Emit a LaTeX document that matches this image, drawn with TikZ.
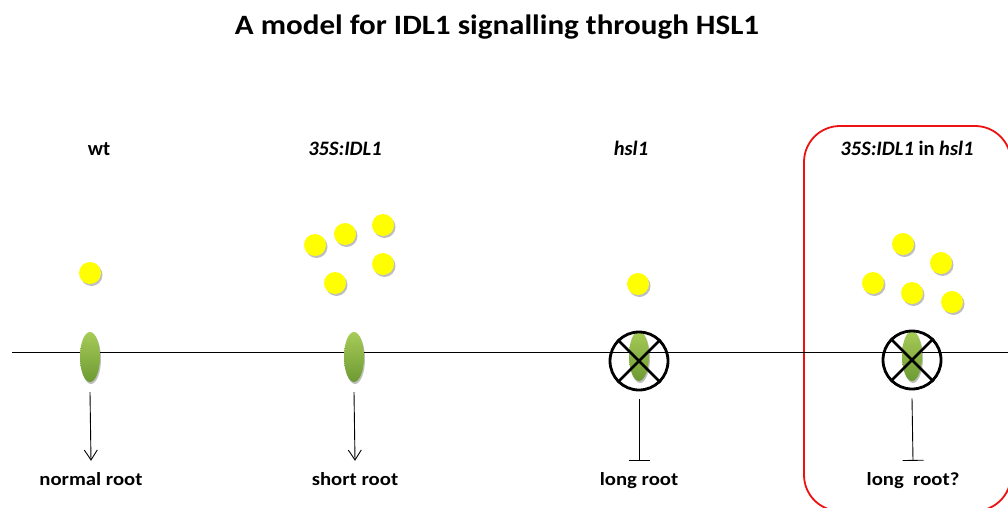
\documentclass[tikz,border=0pt]{standalone}
\usepackage{graphicx}
\usepackage{fontspec}
\setmainfont{Carlito}
\usetikzlibrary{shapes.geometric,shadows,arrows.meta}
\definecolor{leafTop}{HTML}{A6CB56}
\definecolor{leafBot}{HTML}{6E9A34}
\definecolor{ligand}{HTML}{FFFF00}
\definecolor{boxred}{HTML}{EE1111}
\newcommand{\wide}[2]{\scalebox{#1}[1]{#2}}
\tikzset{
  receptor/.style={ellipse, minimum width=20pt, minimum height=50pt, inner sep=0pt,
    top color=leafTop, bottom color=leafBot, draw=none,
    drop shadow={shadow xshift=1pt, shadow yshift=-2pt, opacity=0.25, fill=black}},
  peptide/.style={circle, minimum size=22pt, inner sep=0pt, fill=ligand, draw=none,
    drop shadow={shadow xshift=1.5pt, shadow yshift=-2pt, opacity=0.25, fill=black}},
  blocked/.style={circle, draw=black, line width=2.8pt, minimum size=58pt, inner sep=0pt},
  genotype/.style={font=\fontsize{20.5}{23}\selectfont\bfseries, inner sep=0pt, anchor=base},
  outcome/.style={font=\fontsize{18.5}{21}\selectfont\bfseries, inner sep=0pt, anchor=base},
  signal/.style={line width=0.9pt, -{Straight Barb[length=10pt,width=13pt]}},
  inhibit/.style={line width=0.9pt, -{Bar[width=21pt]}},
}
\begin{document}
\begin{tikzpicture}[x=1pt, y=-1pt]
  \useasboundingbox (0,0) rectangle (1008,508);
  \fill[white] (0,0) rectangle (1008,508);

  % title
  \node[font=\fontsize{28}{32}\selectfont\bfseries, anchor=base, inner sep=0pt] (title) at (497,35) {\wide{1.11}{A model for IDL1 signalling through HSL1}};

  % highlighted case
  \begin{scope}
    \clip (0,0) rectangle (1008,508);
    \draw[boxred, line width=1.8pt, rounded corners=36pt] (804,126) rectangle (1011,511);
  \end{scope}

  % membrane
  \coordinate (memL) at (12,352);
  \coordinate (memR) at (1008,352);
  \draw[line width=0.8pt] (memL) -- (memR);

  % genotype labels
  \node[genotype] (g1) at (99,155) {wt};
  \node[genotype] (g2) at (345,155) {\itshape 35S:IDL1};
  \node[genotype] (g3) at (631,155) {\itshape hsl1};
  \node[genotype] (g4) at (907,155) {\textit{35S:IDL1} in \textit{hsl1}};

  % ligands
  \node[peptide] (p1) at (90,273) {};
  \node[peptide] (p2a) at (315,245) {};
  \node[peptide] (p2b) at (345,234) {};
  \node[peptide] (p2c) at (383,225) {};
  \node[peptide] (p2d) at (383,264) {};
  \node[peptide] (p2e) at (335,283) {};
  \node[peptide] (p3) at (638,284) {};
  \node[peptide] (p4a) at (903,244) {};
  \node[peptide] (p4b) at (941,263) {};
  \node[peptide] (p4c) at (873,283) {};
  \node[peptide] (p4d) at (912,293) {};
  \node[peptide] (p4e) at (952,302) {};

  % receptors
  \node[receptor] (r1) at (90,357) {};
  \node[receptor] (r2) at (354,357) {};
  \node[receptor] (r3) at (639,356) {};
  \node[receptor] (r4) at (912,356) {};

  % knocked-out receptors
  \node[blocked] (k3) at (639,361) {};
  \draw[line width=2.8pt] (k3.north west) -- (k3.south east) (k3.north east) -- (k3.south west);
  \node[blocked] (k4) at (912,360) {};
  \draw[line width=2.8pt] (k4.north west) -- (k4.south east) (k4.north east) -- (k4.south west);

  % phenotypes
  \node[outcome] (o1) at (91,485) {\wide{1.12}{normal root}};
  \node[outcome] (o2) at (355,485) {\wide{1.12}{short root}};
  \node[outcome] (o3) at (639,485) {\wide{1.12}{long root}};
  \node[outcome] (o4) at (913,485) {\wide{1.12}{long\ \ root?}};

  \draw[signal] (r1.south) ++(0,10) -- ([yshift=11pt]o1.north);
  \draw[signal] (r2.south) ++(0,10) -- ([yshift=11pt]o2.north);
  \draw[inhibit] (k3.south) ++(0,8) -- ([yshift=11pt]o3.north);
  \draw[inhibit] (k4.south) ++(0,8) -- ([yshift=11pt]o4.north);
\end{tikzpicture}
\end{document}
